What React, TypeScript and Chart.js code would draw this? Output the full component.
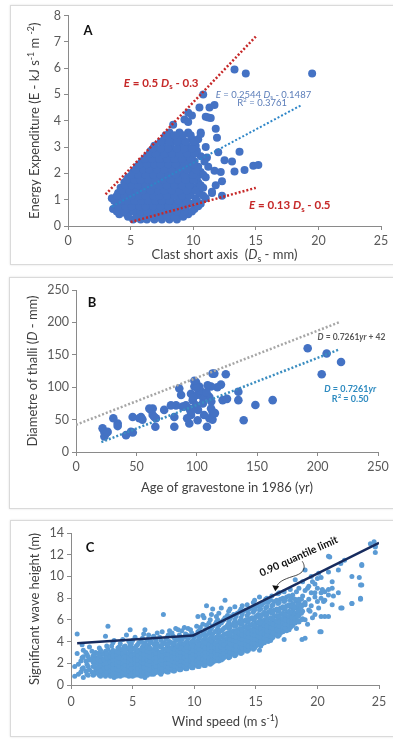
import React, { useEffect, useRef } from "react";
import { Chart, registerables } from "chart.js";
Chart.register(...registerables);

const FONT = "Lato, 'Open Sans', 'DejaVu Sans', sans-serif";
const AXIS = "#8a8a8a";
const TICK = "#595959";
const TITLE = "#404040";
const RED = "#C62828";

// ---------------- Panel A : clast size vs energy ----------------
const clastTicks = [0, 5, 10, 15, 20, 25];
const energyTicks = [0, 1, 2, 3, 4, 5, 6, 7, 8];
// rows: [energy E, clast short axis Ds values]
const clastRows: [number, number[]][] = [
  [0.25, [5.2, 5.8, 6.3, 6.9, 7.5, 8.1, 8.7]],
  [0.45, [4.1, 4.7, 5.5, 6.0, 6.6, 7.2, 7.8, 8.4, 9.0, 9.6]],
  [0.65, [3.6, 4.3, 4.9, 5.3, 5.9, 6.4, 7.0, 7.6, 8.2, 8.8, 9.4, 10.1]],
  [0.85, [3.9, 4.5, 5.1, 5.6, 6.1, 6.7, 7.3, 7.8, 8.5, 9.1, 9.8, 10.6]],
  [1.05, [3.5, 4.2, 4.8, 5.4, 6.0, 6.5, 7.1, 7.6, 8.2, 8.8, 9.4, 10.2, 11.0]],
  [1.25, [4.0, 4.6, 5.2, 5.7, 6.3, 6.9, 7.4, 8.0, 8.6, 9.2, 9.8, 10.5, 11.5]],
  [1.45, [4.2, 4.8, 5.4, 5.9, 6.5, 7.1, 7.6, 8.2, 8.8, 9.4, 10.1, 10.8]],
  [1.65, [4.5, 5.1, 5.7, 6.2, 6.8, 7.4, 8.0, 8.5, 9.1, 9.8, 10.4]],
  [1.85, [4.8, 5.4, 6.0, 6.5, 7.1, 7.7, 8.3, 8.9, 9.6, 10.3, 11.0]],
  [2.05, [5.2, 5.8, 6.3, 6.9, 7.5, 8.0, 8.6, 9.2, 9.9, 10.6]],
  [2.25, [5.5, 6.1, 6.7, 7.2, 7.8, 8.4, 9.0, 9.7, 10.4, 11.2]],
  [2.45, [5.9, 6.5, 7.0, 7.6, 8.2, 8.8, 9.5, 10.1, 10.9]],
  [2.65, [6.3, 6.9, 7.5, 8.1, 8.7, 9.3, 9.9, 10.6]],
  [2.85, [6.6, 7.2, 7.9, 8.5, 9.0, 9.7, 10.3]],
  [3.05, [6.9, 7.6, 8.2, 8.9, 9.5, 10.2]],
  [3.3, [7.7, 8.3, 9.0, 9.9, 10.4]],
  [3.55, [8.1, 8.9, 9.6, 10.6]],
];
// second, interleaved set of rows read from the dense core
const clastRowsB: [number, number[]][] = [
  [0.35, [4.8, 5.5, 6.1, 6.7, 7.3, 7.9, 8.5, 9.2]],
  [0.55, [3.9, 4.5, 5.2, 5.8, 6.3, 6.9, 7.5, 8.1, 8.7, 9.3, 9.9]],
  [0.75, [4.0, 4.6, 5.1, 5.7, 6.2, 6.8, 7.4, 8.0, 8.6, 9.2, 10.4]],
  [0.95, [3.7, 4.3, 4.8, 5.3, 5.9, 6.4, 7.0, 7.5, 8.1, 8.8, 9.5, 10.3]],
  [1.15, [3.9, 4.5, 5.1, 5.7, 6.2, 6.8, 7.3, 7.9, 8.5, 9.1, 9.7, 10.8]],
  [1.35, [4.3, 4.9, 5.5, 6.0, 6.6, 7.2, 7.7, 8.3, 8.9, 9.5, 10.2]],
  [1.55, [4.6, 5.1, 5.6, 6.2, 6.8, 7.3, 7.9, 8.5, 9.1, 9.7, 10.6]],
  [1.75, [4.7, 5.3, 5.8, 6.4, 7.0, 7.6, 8.2, 8.8, 9.4, 10.0]],
  [1.95, [5.1, 5.6, 6.2, 6.8, 7.4, 8.0, 8.6, 9.3, 10.0, 10.8]],
  [2.15, [5.4, 6.0, 6.5, 7.1, 7.7, 8.3, 8.9, 9.5, 10.2]],
  [2.35, [5.7, 6.3, 6.9, 7.4, 8.0, 8.6, 9.3, 10.0]],
  [2.55, [6.1, 6.7, 7.3, 7.9, 8.5, 9.1, 9.8]],
  [2.75, [6.5, 7.0, 7.7, 8.3, 8.9, 9.5, 10.1]],
  [2.95, [6.8, 7.4, 8.0, 8.7, 9.3, 9.9]],
  [3.2, [7.4, 8.1, 8.7, 9.4, 10.0]],
  [3.45, [7.8, 8.5, 9.2, 9.8]],
];
// [Ds, E]
const clastOutliers: [number, number][] = [
  [8.4, 3.85], [9.3, 4.05], [9.6, 3.95], [9.6, 4.3], [9.9, 4.2], [10.5, 4.5], [10.8, 5.0],
  [11.0, 4.15], [11.2, 4.12], [11.4, 4.1], [11.3, 4.5], [11.7, 4.6], [11.8, 3.7], [11.9, 3.35],
  [11.0, 3.0], [11.1, 2.6], [12.0, 2.8], [12.5, 2.5], [13.1, 2.45], [13.7, 2.82], [13.3, 2.07],
  [14.1, 2.13], [14.8, 2.29], [15.2, 2.32], [11.7, 2.1], [12.2, 2.05], [12.3, 1.7], [11.8, 1.55],
  [11.5, 1.3], [12.3, 1.15], [13.3, 5.95], [14.2, 5.8], [19.5, 5.8], [10.6, 3.5],
];
const upperLimitDs = [3, 15];
const upperLimitE = [1.2, 7.2];
const lowerLimitDs = [5, 15];
const lowerLimitE = [0.15, 1.45];
const fitDs = [3.5, 18.7];
const fitE = [0.74, 4.61];

// ---------------- Panel B : lichen thalli ----------------
const ageTicks = [0, 50, 100, 150, 200, 250];
const diamTicks = [0, 50, 100, 150, 200, 250];
// [age yr, diameter mm]
const thalli: [number, number][] = [
  [191.8, 160], [207.5, 152], [219.4, 139], [203.4, 120], [162.8, 80], [148.5, 72.5], [138.8, 49],
  [134.4, 93], [134.4, 80], [124, 120], [113, 121], [114.5, 121], [120, 104], [117, 100], [121.4, 80],
  [111.8, 101], [109, 103], [110.4, 85], [111.8, 67], [113, 62], [110.4, 52], [108.4, 39], [104.9, 85],
  [102, 101], [99.3, 108], [98, 101], [95.2, 90], [96.6, 80], [99.3, 72], [93.8, 67], [95.2, 57],
  [93.8, 44], [100.7, 49], [91, 72], [88.3, 70], [85.5, 98], [87, 88], [82.8, 72], [81.4, 54],
  [81.4, 39], [78.6, 72], [73, 65], [66.2, 52], [65.7, 39], [63.5, 67], [62, 65], [63.5, 57],
  [64.8, 54], [60.7, 67], [53.8, 54], [52.4, 52], [46.9, 54], [45.5, 31], [41.4, 26], [34.5, 44],
  [34.5, 40], [30.9, 52], [22, 36.5], [23.5, 31], [24.8, 29], [23.5, 24], [26.2, 31],
  [100, 88], [103, 95], [97, 84], [105, 75], [108, 92], [112, 78], [95, 62], [101, 65], [106, 57],
  [113, 50], [92, 52], [115, 60], [125, 82], [100, 100], [98, 110], [47, 30], [55, 50],
];
const envelopeAge = [0, 218];
const envelopeDiam = [42, 200.3];
const growthAge = [21, 218];
const growthDiam = [15.2, 158.3];

// ---------------- Panel C : wind vs wave height ----------------
const windTicks = [0, 5, 10, 15, 20, 25];
const waveTicks = [0, 2, 4, 6, 8, 10, 12, 14];
// columns: [wind speed, wave heights]
const waveColumns: [number, number[]][] = [
  [0.3, [0.8, 1.7]], [0.5, [2.9, 4.7]], [0.8, [1.2, 2.2]], [1.0, [0.7, 1.6, 2.6, 3.2]],
  [1.3, [1.0, 1.9, 2.8]], [1.5, [1.4, 2.3, 3.5]], [1.8, [0.9, 1.7, 2.1, 2.7]],
  [2.0, [1.2, 1.5, 2.0, 2.5, 3.0]], [2.3, [0.9, 1.4, 1.8, 2.2, 2.6, 3.4]],
  [2.5, [1.1, 1.6, 2.0, 2.4, 2.9]], [2.8, [0.8, 1.3, 1.7, 2.1, 2.5, 3.1, 4.5]],
  [3.0, [1.0, 1.5, 1.9, 2.3, 2.7, 3.3, 5.4]], [3.3, [0.9, 1.2, 1.6, 2.0, 2.4, 2.8, 3.6]],
  [3.5, [0.7, 1.1, 1.4, 1.8, 2.2, 2.6, 3.0, 4.1]], [3.8, [0.9, 1.3, 1.7, 2.1, 2.5, 2.9, 3.4]],
  [4.0, [0.8, 1.2, 1.5, 1.9, 2.3, 2.7, 3.2, 3.8]], [4.3, [1.0, 1.4, 1.8, 2.2, 2.6, 3.0, 3.5]],
  [4.5, [0.9, 1.2, 1.6, 2.0, 2.4, 2.8, 3.3, 4.6]], [4.8, [1.1, 1.5, 1.9, 2.3, 2.7, 3.1, 3.7, 5.1]],
  [5.0, [0.8, 1.3, 1.7, 2.1, 2.5, 2.9, 3.4, 4.1]], [5.3, [1.0, 1.4, 1.8, 2.2, 2.6, 3.0, 3.6]],
  [5.5, [0.9, 1.2, 1.6, 2.0, 2.4, 2.8, 3.2, 3.9]], [5.8, [1.1, 1.5, 1.9, 2.3, 2.7, 3.1, 3.5, 4.3]],
  [6.0, [0.7, 1.0, 1.4, 1.8, 2.2, 2.6, 3.0, 3.4, 3.9, 5.1]], [6.3, [1.2, 1.6, 2.0, 2.4, 2.8, 3.2, 3.7, 4.6]],
  [6.5, [1.0, 1.3, 1.7, 2.1, 2.5, 2.9, 3.3, 4.0]], [6.8, [1.1, 1.5, 1.9, 2.3, 2.7, 3.1, 3.6, 4.3]],
  [7.0, [1.2, 1.6, 2.0, 2.4, 2.8, 3.2, 3.8, 4.8]], [7.3, [1.0, 1.4, 1.8, 2.2, 2.6, 3.0, 3.5, 4.1]],
  [7.5, [1.3, 1.7, 2.1, 2.5, 2.9, 3.3, 3.9, 6.5]], [7.8, [1.2, 1.5, 1.9, 2.3, 2.7, 3.1, 3.6, 4.4]],
  [8.0, [1.4, 1.8, 2.2, 2.6, 3.0, 3.4, 4.0, 5.0]], [8.3, [1.3, 1.6, 2.0, 2.4, 2.8, 3.2, 3.7, 4.5]],
  [8.5, [1.5, 1.9, 2.3, 2.7, 3.1, 3.5, 4.1, 5.2]], [8.8, [1.4, 1.7, 2.1, 2.5, 2.9, 3.3, 3.8, 4.6]],
  [9.0, [1.6, 2.0, 2.4, 2.8, 3.2, 3.6, 4.2, 5.0]], [9.3, [1.5, 1.8, 2.2, 2.6, 3.0, 3.4, 3.9, 4.7]],
  [9.5, [1.7, 2.1, 2.5, 2.9, 3.3, 3.7, 4.3, 5.2]], [9.8, [1.6, 1.9, 2.3, 2.7, 3.1, 3.5, 4.0, 4.8]],
  [10.0, [1.8, 2.2, 2.6, 3.0, 3.4, 3.8, 4.4]], [10.3, [1.7, 2.0, 2.4, 2.8, 3.2, 3.6, 4.1, 4.9, 6.3]],
  [10.5, [1.9, 2.3, 2.7, 3.1, 3.5, 3.9, 4.5, 5.3]], [10.8, [1.8, 2.1, 2.5, 2.9, 3.3, 3.7, 4.2, 4.8, 6.2]],
  [11.0, [2.0, 2.4, 2.8, 3.2, 3.6, 4.0, 4.6, 5.5, 7.3]], [11.3, [1.9, 2.2, 2.6, 3.0, 3.4, 3.8, 4.3, 5.0, 6.0]],
  [11.5, [2.1, 2.5, 2.9, 3.3, 3.7, 4.1, 4.7, 5.4, 7.0]], [11.8, [2.3, 2.7, 3.1, 3.5, 3.9, 4.4, 5.0, 5.8, 6.3]],
  [12.0, [2.2, 2.6, 3.0, 3.4, 3.8, 4.2, 4.8, 5.5, 6.6]], [12.3, [2.4, 2.8, 3.2, 3.6, 4.0, 4.5, 5.1, 5.9]],
  [12.5, [2.6, 3.0, 3.4, 3.8, 4.2, 4.7, 5.3, 6.2, 7.8]], [12.8, [2.5, 2.9, 3.3, 3.7, 4.1, 4.6, 5.2, 5.8, 6.8]],
  [13.0, [2.8, 3.2, 3.6, 4.0, 4.4, 4.9, 5.5, 6.3]], [13.3, [2.7, 3.1, 3.5, 3.9, 4.3, 4.8, 5.4, 6.0, 7.2]],
  [13.5, [3.0, 3.4, 3.8, 4.2, 4.6, 5.1, 5.7, 6.6]], [13.8, [2.9, 3.3, 3.7, 4.1, 4.5, 5.0, 5.6, 6.2, 7.0]],
  [14.0, [3.2, 3.6, 4.0, 4.4, 4.8, 5.3, 5.9, 6.8]], [14.3, [3.1, 3.5, 3.9, 4.3, 4.7, 5.2, 5.8, 6.4, 7.4]],
  [14.5, [3.4, 3.8, 4.2, 4.6, 5.0, 5.5, 6.1, 7.0]], [14.8, [3.3, 3.7, 4.1, 4.5, 4.9, 5.4, 6.0, 6.7, 7.6]],
  [15.0, [3.6, 4.0, 4.4, 4.8, 5.2, 5.7, 6.3, 7.2]], [15.3, [3.2, 3.9, 4.3, 4.7, 5.1, 5.6, 6.2, 6.9, 8.1]],
  [15.5, [3.8, 4.2, 4.6, 5.0, 5.4, 5.9, 6.5, 7.4]], [15.8, [4.1, 4.5, 4.9, 5.3, 5.8, 6.4, 7.1, 7.9]],
  [16.0, [4.0, 4.4, 4.8, 5.2, 5.6, 6.1, 6.7, 7.6]], [16.3, [4.3, 4.7, 5.1, 5.5, 6.0, 6.6, 7.3, 8.2]],
  [16.5, [4.6, 5.0, 5.4, 5.8, 6.3, 6.9, 7.7]], [16.8, [4.5, 4.9, 5.3, 5.7, 6.2, 6.8, 7.5, 8.4]],
  [17.0, [4.8, 5.2, 5.6, 6.0, 6.5, 7.1, 7.9]], [17.3, [4.2, 5.1, 5.5, 5.9, 6.4, 7.0, 7.7, 8.6]],
  [17.5, [5.0, 5.4, 5.8, 6.2, 6.7, 7.3, 8.1]], [17.8, [5.3, 5.7, 6.1, 6.6, 7.2, 7.8, 8.8]],
  [18.0, [5.5, 5.9, 6.3, 6.9, 7.5, 8.3]], [18.3, [5.2, 6.0, 6.5, 7.1, 7.7, 8.6]],
  [18.5, [5.8, 6.4, 7.0, 7.6, 8.9]], [18.8, [6.1, 6.8, 7.4, 8.2, 9.5]], [19.0, [4.3, 6.0, 7.6, 8.7]],
  [19.3, [6.9, 7.9, 9.1]], [19.5, [7.3, 8.5, 10.0]], [19.8, [6.5, 8.1, 9.3]], [20.0, [7.7, 8.9, 9.8]],
  [20.3, [4.9, 6.3, 8.0, 8.5, 9.9]], [20.6, [6.3, 7.8, 8.6]], [20.9, [6.3, 8.3, 8.8, 10.4]],
  [21.0, [11.8]], [21.2, [7.4, 9.5]], [21.7, [8.5, 10.6]], [22.0, [7.1]], [22.2, [11.5]],
  [22.8, [7.5]], [23.4, [9.9]], [23.5, [7.9, 9.2]], [23.6, [11.0]], [24.3, [13.0]], [24.7, [12.2, 12.7]],
];
// second, interleaved set of columns
const waveColumnsB: [number, number[]][] = [
  [0.6, [1.0, 1.9]], [0.9, [1.5, 2.5, 3.7]], [1.2, [1.3, 2.2, 3.0]], [1.4, [0.9, 1.7, 2.6]],
  [1.7, [1.2, 2.4, 3.1]], [1.9, [1.0, 1.8, 2.3, 2.8]], [2.2, [1.1, 1.6, 2.0, 2.4, 2.9]],
  [2.4, [0.8, 1.3, 1.8, 2.2, 2.7, 3.2]], [2.7, [1.0, 1.5, 1.9, 2.3, 2.8]], [2.9, [1.2, 1.6, 2.0, 2.5, 2.9, 3.6]],
  [3.2, [0.8, 1.3, 1.7, 2.1, 2.6, 3.0]], [3.4, [1.0, 1.5, 1.9, 2.3, 2.7, 3.2, 3.9]],
  [3.7, [0.8, 1.1, 1.5, 1.9, 2.3, 2.8, 3.1]], [3.9, [1.0, 1.4, 1.7, 2.1, 2.5, 3.0, 3.5]],
  [4.2, [0.9, 1.2, 1.6, 2.0, 2.4, 2.9, 3.3, 4.2]], [4.4, [1.1, 1.4, 1.8, 2.2, 2.6, 3.1, 3.6]],
  [4.7, [0.8, 1.3, 1.7, 2.1, 2.5, 2.9, 3.4, 4.0]], [4.9, [1.0, 1.5, 1.9, 2.3, 2.7, 3.2, 3.8]],
  [5.2, [0.9, 1.2, 1.6, 2.0, 2.4, 2.8, 3.3, 4.4]], [5.4, [1.1, 1.5, 1.9, 2.3, 2.7, 3.1, 3.7]],
  [5.7, [0.8, 1.3, 1.7, 2.1, 2.5, 2.9, 3.3, 4.0]], [5.9, [1.2, 1.6, 2.0, 2.4, 2.8, 3.2, 3.7, 4.7]],
  [6.2, [0.9, 1.1, 1.5, 1.9, 2.3, 2.7, 3.1, 3.5, 4.2]], [6.4, [1.4, 1.8, 2.2, 2.6, 3.0, 3.4, 3.9]],
  [6.7, [1.0, 1.2, 1.6, 2.0, 2.4, 2.8, 3.2, 3.8, 4.5]], [6.9, [1.3, 1.7, 2.1, 2.5, 2.9, 3.4, 4.1]],
  [7.2, [1.1, 1.4, 1.8, 2.2, 2.6, 3.0, 3.6, 4.4]], [7.4, [1.2, 1.5, 1.9, 2.3, 2.7, 3.1, 3.7, 4.9]],
  [7.7, [1.4, 1.7, 2.0, 2.4, 2.8, 3.3, 3.8, 4.2]], [7.9, [1.2, 1.6, 2.0, 2.4, 2.8, 3.2, 3.7, 4.6]],
  [8.2, [1.5, 1.8, 2.2, 2.6, 3.0, 3.4, 3.9, 4.8]], [8.4, [1.3, 1.7, 2.1, 2.5, 2.9, 3.3, 3.8, 4.3]],
  [8.7, [1.6, 2.0, 2.4, 2.8, 3.2, 3.6, 4.2, 5.1]], [8.9, [1.4, 1.8, 2.2, 2.6, 3.0, 3.4, 3.9, 4.4]],
  [9.2, [1.7, 2.1, 2.5, 2.9, 3.3, 3.8, 4.4, 5.3]], [9.4, [1.5, 1.9, 2.3, 2.7, 3.1, 3.5, 4.0, 4.6]],
  [9.7, [1.8, 2.2, 2.6, 3.0, 3.4, 3.9, 4.5, 5.1]], [9.9, [1.6, 2.0, 2.4, 2.8, 3.2, 3.6, 4.1, 4.6]],
  [10.2, [1.9, 2.3, 2.7, 3.1, 3.5, 4.0, 4.6, 5.4]], [10.4, [1.7, 2.1, 2.5, 2.9, 3.3, 3.7, 4.3, 5.0]],
  [10.7, [2.0, 2.4, 2.8, 3.2, 3.6, 4.1, 4.7, 5.6, 6.4]], [10.9, [1.8, 2.2, 2.6, 3.0, 3.4, 3.9, 4.4, 5.1]],
  [11.2, [2.1, 2.5, 2.9, 3.3, 3.7, 4.2, 4.8, 5.7]], [11.4, [2.0, 2.3, 2.7, 3.1, 3.5, 4.0, 4.5, 5.2, 6.5]],
  [11.7, [2.2, 2.6, 3.0, 3.4, 3.8, 4.3, 4.9, 5.6]], [11.9, [2.4, 2.8, 3.2, 3.6, 4.0, 4.5, 5.2, 6.0]],
  [12.2, [2.3, 2.7, 3.1, 3.5, 3.9, 4.4, 5.0, 5.7, 7.1]], [12.4, [2.5, 2.9, 3.3, 3.7, 4.1, 4.6, 5.2, 6.0]],
  [12.7, [2.7, 3.1, 3.5, 3.9, 4.3, 4.8, 5.5, 6.4]], [12.9, [2.6, 3.0, 3.4, 3.8, 4.2, 4.7, 5.3, 6.1, 7.0]],
  [13.2, [2.9, 3.3, 3.7, 4.1, 4.5, 5.0, 5.7, 6.5]], [13.4, [2.8, 3.2, 3.6, 4.0, 4.4, 4.9, 5.5, 6.3]],
  [13.7, [3.1, 3.5, 3.9, 4.3, 4.7, 5.2, 5.9, 6.8]], [13.9, [3.0, 3.4, 3.8, 4.2, 4.6, 5.1, 5.7, 6.5, 7.3]],
  [14.2, [3.3, 3.7, 4.1, 4.5, 4.9, 5.4, 6.0, 6.9]], [14.4, [3.2, 3.6, 4.0, 4.4, 4.8, 5.3, 5.9, 6.6]],
  [14.7, [3.5, 3.9, 4.3, 4.7, 5.1, 5.6, 6.2, 7.1]], [14.9, [3.4, 3.8, 4.2, 4.6, 5.0, 5.5, 6.1, 6.9, 7.8]],
  [15.2, [3.7, 4.1, 4.5, 4.9, 5.3, 5.8, 6.5, 7.3]], [15.4, [3.6, 4.0, 4.4, 4.8, 5.2, 5.7, 6.3, 7.0]],
  [15.7, [3.9, 4.3, 4.7, 5.1, 5.5, 6.0, 6.7, 7.6]], [15.9, [4.2, 4.6, 5.0, 5.4, 5.9, 6.5, 7.2, 8.0]],
  [16.2, [4.1, 4.5, 4.9, 5.3, 5.7, 6.2, 6.9, 7.8]], [16.4, [4.4, 4.8, 5.2, 5.6, 6.1, 6.7, 7.4]],
  [16.7, [4.7, 5.1, 5.5, 5.9, 6.4, 7.0, 7.8]], [16.9, [4.6, 5.0, 5.4, 5.8, 6.3, 6.9, 7.6, 8.5]],
  [17.2, [4.9, 5.3, 5.7, 6.1, 6.6, 7.2, 8.0]], [17.4, [5.2, 5.6, 6.0, 6.5, 7.1, 7.8]],
  [17.7, [5.1, 5.5, 5.9, 6.3, 6.8, 7.4, 8.2]], [17.9, [5.4, 5.8, 6.2, 6.7, 7.3, 8.0]],
  [18.2, [5.7, 6.1, 6.6, 7.2, 7.9]], [18.4, [5.9, 6.3, 6.8, 7.4]], [18.7, [6.0, 6.6, 7.2, 7.9]],
];
// scattered high-wind observations [wind, wave]
const waveOutliers: [number, number][] = [
  [20.9, 11.85], [21.9, 11.2], [22.8, 10.0], [23.6, 11.1], [23.6, 9.2], [23.5, 8.0], [22.8, 7.5],
  [21.9, 7.1], [20.2, 4.9], [18.75, 4.2], [21.2, 8.9], [21.3, 8.2], [20.4, 8.8], [20.5, 7.7],
  [19.6, 9.5], [19.8, 8.5], [19.2, 8.9], [19.0, 7.4], [19.4, 6.8], [18.5, 7.9], [24.7, 12.8],
  [24.6, 13.2], [20.1, 10.3], [19.0, 10.6], [18.2, 9.7], [19.2, 5.6], [19.6, 6.2], [20.1, 7.1],
];
const quantileWind = [0.5, 9.9, 25];
const quantileWave = [3.85, 4.55, 13.1];

// ---------------- helpers ----------------
const pairs = (xs: number[], ys: number[]) => xs.map((x, i) => ({ x, y: ys[i] }));

type Seg = { t: string; i?: boolean; sub?: boolean; sup?: boolean };

function drawRich(ctx: CanvasRenderingContext2D, segs: Seg[], x: number, y: number, size: number,
  color: string, weight: number, align: "left" | "center" | "right" = "left") {
  ctx.save();
  ctx.fillStyle = color;
  ctx.textBaseline = "middle";
  ctx.textAlign = "left";
  const parts = segs.map((s) => {
    const fs = s.sub || s.sup ? size * 0.68 : size;
    const font = `${s.i ? "italic " : ""}${weight} ${fs}px ${FONT}`;
    ctx.font = font;
    return { s, font, w: ctx.measureText(s.t).width };
  });
  const total = parts.reduce((a, p) => a + p.w, 0);
  let cx = align === "left" ? x : align === "center" ? x - total / 2 : x - total;
  for (const p of parts) {
    ctx.font = p.font;
    const dy = p.s.sub ? size * 0.3 : p.s.sup ? -size * 0.33 : 0;
    ctx.fillText(p.s.t, cx, y + dy);
    cx += p.w;
  }
  ctx.restore();
}

type Box = { left: number; top: number; w: number; h: number };
type Plot = { l: number; t: number; r: number; b: number };
type Spec = {
  box: Box; plot: Plot;
  x: { min: number; max: number; ticks: number[] };
  y: { min: number; max: number; ticks: number[] };
  tickSize: number; xPad: number;
  datasets: any[];
  yTitle: Seg[]; xTitle: Seg[]; yTitleX: number; xTitleY: number; titleSize: number;
  draw: (ctx: CanvasRenderingContext2D, X: (v: number) => number, Y: (v: number) => number) => void;
};

function axis(min: number, max: number, ticks: number[], size: number, pad: number, fit: (s: any) => void) {
  return {
    type: "linear", min, max,
    afterBuildTicks: (s: any) => { s.ticks = ticks.map((v) => ({ value: v })); },
    afterFit: fit,
    ticks: { font: { family: FONT, size }, color: TICK, padding: pad, autoSkip: false, maxRotation: 0 },
    grid: { drawOnChartArea: false, drawTicks: true, tickLength: 4, color: AXIS, lineWidth: 1 },
    border: { display: true, color: AXIS, width: 1 },
  };
}

function Panel({ spec }: { spec: Spec }) {
  const ref = useRef<HTMLCanvasElement>(null);
  useEffect(() => {
    const { box, plot } = spec;
    const yW = plot.l - box.left;
    const xH = box.h - (plot.b - box.top);
    const annot = {
      id: "annot",
      afterDraw(chart: any) {
        const ctx = chart.ctx as CanvasRenderingContext2D;
        const ca = chart.chartArea;
        const X = (v: number) => chart.scales.x.getPixelForValue(v);
        const Y = (v: number) => chart.scales.y.getPixelForValue(v);
        ctx.save();
        ctx.translate(spec.yTitleX - box.left, (ca.top + ca.bottom) / 2);
        ctx.rotate(-Math.PI / 2);
        drawRich(ctx, spec.yTitle, 0, 0, spec.titleSize, TITLE, 400, "center");
        ctx.restore();
        drawRich(ctx, spec.xTitle, (ca.left + ca.right) / 2, spec.xTitleY - box.top, spec.titleSize, TITLE, 400, "center");
        spec.draw(ctx, X, Y);
      },
    };
    const chart = new Chart(ref.current!, {
      type: "scatter",
      data: { datasets: spec.datasets },
      options: {
        responsive: false,
        animation: false,
        events: [],
        layout: { padding: { left: 0, top: plot.t - box.top, right: box.w - (plot.r - box.left), bottom: 0 } },
        plugins: { legend: { display: false }, tooltip: { enabled: false } },
        scales: {
          x: axis(spec.x.min, spec.x.max, spec.x.ticks, spec.tickSize, spec.xPad, (s: any) => { s.height = xH; }),
          y: axis(spec.y.min, spec.y.max, spec.y.ticks, spec.tickSize, 3, (s: any) => { s.width = yW; }),
        },
      } as any,
      plugins: [annot],
    });
    return () => chart.destroy();
  }, []);
  const { box } = spec;
  return (
    <>
      <div style={{ position: "absolute", left: box.left, top: box.top, width: box.w, height: box.h,
        border: "1px solid #dadada", boxSizing: "border-box", boxShadow: "0 0 2px rgba(0,0,0,0.12)" }} />
      <canvas ref={ref} width={box.w} height={box.h}
        style={{ position: "absolute", left: box.left, top: box.top, width: box.w, height: box.h, display: "block" }} />
    </>
  );
}

const lineDs = (data: any[], color: string, width: number, dash: number[]) => ({
  data, showLine: true, borderColor: color, borderWidth: width, borderDash: dash,
  pointRadius: 0, fill: false, order: 0,
});

const rowsToPoints = (rows: [number, number[]][]) => rows.flatMap(([e, ds]) => ds.map((d) => ({ x: d, y: e })));
const colsToPoints = (cols: [number, number[]][]) => cols.flatMap(([w, hs]) => hs.map((h) => ({ x: w, y: h })));

const clastPoints = [
  ...rowsToPoints(clastRows),
  ...rowsToPoints(clastRowsB),
  ...clastOutliers.map(([d, e]) => ({ x: d, y: e })),
];
const thalliPoints = thalli.map(([a, d]) => ({ x: a, y: d }));
const wavePoints = [
  ...colsToPoints(waveColumns),
  ...colsToPoints(waveColumnsB),
  ...waveOutliers.map(([w, h]) => ({ x: w, y: h })),
];

const specA: Spec = {
  box: { left: 10, top: 5, w: 392, h: 260 },
  plot: { l: 68, t: 15, r: 381, b: 226 },
  x: { min: 0, max: 25, ticks: clastTicks },
  y: { min: 0, max: 8, ticks: energyTicks },
  tickSize: 12.5, xPad: 3,
  datasets: [
    lineDs(pairs(upperLimitDs, upperLimitE), RED, 2.5, [2, 2]),
    lineDs(pairs(lowerLimitDs, lowerLimitE), RED, 2.5, [2, 2]),
    lineDs(pairs(fitDs, fitE), "#2E86C8", 2, [2, 2]),
    { data: clastPoints, backgroundColor: "#4472C4", borderWidth: 0, pointRadius: 4, order: 2 },
  ],
  yTitle: [{ t: "Energy Expenditure (E - kJ s" }, { t: "-1", sup: true }, { t: " m " }, { t: "-2", sup: true }, { t: ")" }],
  xTitle: [{ t: "Clast short axis  (" }, { t: "D", i: true }, { t: "s", sub: true }, { t: " - mm)" }],
  yTitleX: 35, xTitleY: 255, titleSize: 13,
  draw: (ctx, X, Y) => {
    drawRich(ctx, [{ t: "A" }], X(1.6), Y(7.43), 13, "#111", 700, "center");
    drawRich(ctx, [{ t: "E", i: true }, { t: " = 0.5 " }, { t: "D", i: true }, { t: "s", sub: true }, { t: " - 0.3" }],
      X(4.45), Y(5.42), 11.5, RED, 700, "left");
    drawRich(ctx, [{ t: "E", i: true }, { t: " = 0.2544 " }, { t: "D", i: true }, { t: "s", sub: true }, { t: " - 0.1487" }],
      X(11.8), Y(5.0), 9.5, "#5B7DB9", 400, "left");
    drawRich(ctx, [{ t: "R" }, { t: "2", sup: true }, { t: " = 0.3761" }], X(15.5), Y(4.67), 9.5, "#5B7DB9", 400, "center");
    drawRich(ctx, [{ t: "E", i: true }, { t: " = 0.13 " }, { t: "D", i: true }, { t: "s", sub: true }, { t: " - 0.5" }],
      X(14.46), Y(0.77), 11.5, RED, 700, "left");
  },
};

const specB: Spec = {
  box: { left: 9, top: 277, w: 393, h: 232 },
  plot: { l: 76, t: 290, r: 378, b: 452 },
  x: { min: 0, max: 250, ticks: ageTicks },
  y: { min: 0, max: 250, ticks: diamTicks },
  tickSize: 12.5, xPad: 3,
  datasets: [
    lineDs(pairs(envelopeAge, envelopeDiam), "#A6A6A6", 2.5, [2, 2]),
    lineDs(pairs(growthAge, growthDiam), "#3A8DC0", 2.5, [2, 2]),
    { data: thalliPoints, backgroundColor: "#4472C4", borderWidth: 0, pointRadius: 4.3, order: 2 },
  ],
  yTitle: [{ t: "Diametre of thalli (" }, { t: "D", i: true }, { t: " - mm)" }],
  xTitle: [{ t: "Age of gravestone in 1986 (yr)" }],
  yTitleX: 33, xTitleY: 488, titleSize: 13,
  draw: (ctx, X, Y) => {
    drawRich(ctx, [{ t: "B" }], X(13.2), Y(230), 13, "#111", 700, "center");
    drawRich(ctx, [{ t: "D", i: true }, { t: " = 0.7261" }, { t: "yr", i: true }, { t: " + 42" }],
      X(200), Y(177.5), 8.5, "#595959", 700, "left");
    drawRich(ctx, [{ t: "D", i: true }, { t: " = 0.7261" }, { t: "yr", i: true }], X(227), Y(97.2), 9, "#2E8BC0", 700, "center");
    drawRich(ctx, [{ t: "R" }, { t: "2", sup: true }, { t: " = 0.50" }], X(227), Y(81.8), 9, "#2E8BC0", 700, "center");
  },
};

const specC: Spec = {
  box: { left: 10, top: 520, w: 392, h: 217 },
  plot: { l: 71, t: 533, r: 379, b: 685 },
  x: { min: 0, max: 25, ticks: windTicks },
  y: { min: 0, max: 14, ticks: waveTicks },
  tickSize: 12.5, xPad: 5,
  datasets: [
    { ...lineDs(pairs(quantileWind, quantileWave), "#172B5E", 2.5, []), borderJoinStyle: "round" },
    { data: wavePoints, backgroundColor: "#5B9BD5", borderWidth: 0, pointRadius: 2.5, order: 2 },
  ],
  yTitle: [{ t: "Significant wave height (m)" }],
  xTitle: [{ t: "Wind speed (m s" }, { t: "-1", sup: true }, { t: ")" }],
  yTitleX: 35, xTitleY: 722, titleSize: 13,
  draw: (ctx, X, Y) => {
    drawRich(ctx, [{ t: "C" }], X(1.54), Y(12.6), 13, "#111", 700, "center");
    ctx.save();
    ctx.translate(X(18.48), Y(11.85));
    ctx.rotate((-24 * Math.PI) / 180);
    drawRich(ctx, [{ t: "0.90 quantile limit" }], 0, 0, 10.5, "#111", 700, "center");
    ctx.restore();
    // curved pointer
    const tx = X(16.58), ty = Y(8.63);
    ctx.save();
    ctx.translate(tx, ty);
    ctx.strokeStyle = "#333";
    ctx.lineWidth = 0.9;
    ctx.beginPath();
    ctx.moveTo(27, -30);
    ctx.bezierCurveTo(31, -24, 29, -18, 18, -15);
    ctx.bezierCurveTo(8, -12, 3, -9, 1.5, -5);
    ctx.stroke();
    ctx.fillStyle = "#111";
    ctx.beginPath();
    ctx.moveTo(0, 0);
    ctx.lineTo(-3, -6);
    ctx.lineTo(4, -5);
    ctx.closePath();
    ctx.fill();
    ctx.restore();
  },
};

export default function App() {
  return (
    <div style={{ position: "absolute", left: 0, top: 0, width: 393, height: 740, overflow: "hidden", background: "#fff" }}>
      <Panel spec={specA} />
      <Panel spec={specB} />
      <Panel spec={specC} />
    </div>
  );
}
